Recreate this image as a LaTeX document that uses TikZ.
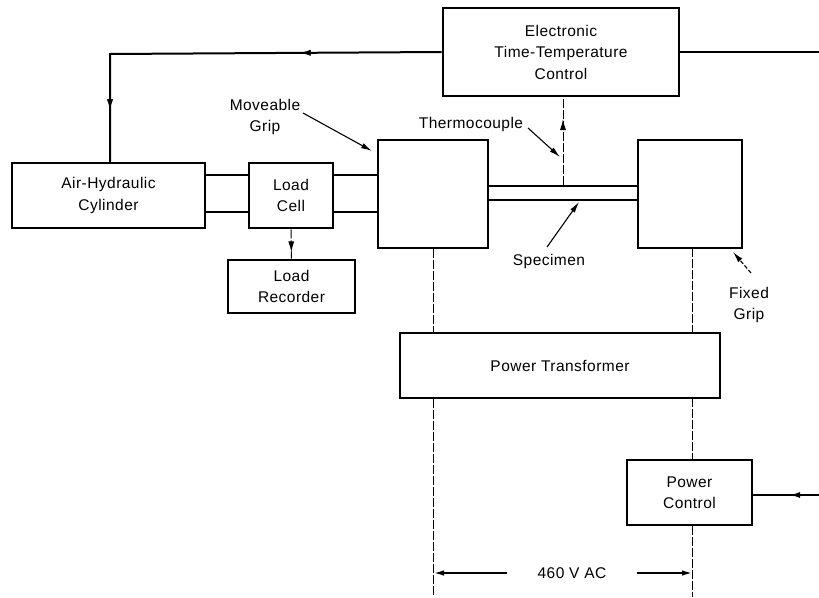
\documentclass[tikz,border=0pt]{standalone}
\usepackage{fontspec}
\setmainfont[LetterSpace=3]{Liberation Sans}
\usetikzlibrary{arrows.meta,decorations.markings}
\begin{document}
\begin{tikzpicture}[x=1pt,y=-1pt,
  box/.style={draw,line width=2.6pt,inner sep=0pt,align=center,font=\fontsize{15.5}{21.5}\selectfont},
  lbl/.style={inner sep=0pt,align=center,font=\fontsize{15.5}{21.5}\selectfont},
  wire/.style={line width=2pt},
  thin/.style={line width=1.1pt},
  dashline/.style={line width=1pt,dash pattern=on 9pt off 2pt},
  tip/.style={-{Latex[length=11pt,width=5.5pt]}},
  midarrow/.style={postaction={decorate},decoration={markings,mark=at position #1 with {\arrow{Latex[length=11pt,width=6pt]}}}}
]
\useasboundingbox (0,0) rectangle (819,597);

% boxes
\node[box,minimum width=236pt,minimum height=88pt] (ctrl) at (561,52) {Electronic\\Time-Temperature\\Control};
\node[box,minimum width=193pt,minimum height=65pt] (cyl) at (108.5,195.5) {Air-Hydraulic\\Cylinder};
\node[box,minimum width=84pt,minimum height=65pt] (cell) at (291,195.5) {Load\\Cell};
\node[box,minimum width=110pt,minimum height=108pt] (mgrip) at (433,194) {};
\node[box,minimum width=104pt,minimum height=108pt] (fgrip) at (690,194) {};
\node[box,minimum width=127pt,minimum height=53pt] (rec) at (291.5,286.5) {Load\\Recorder};
\node[box,minimum width=320pt,minimum height=65pt] (xfmr) at (560,365.5) {Power Transformer};
\node[box,minimum width=125pt,minimum height=65pt] (pctl) at (689.5,492.5) {Power\\Control};
\node[draw,line width=2pt,inner sep=0pt,minimum width=150pt,minimum height=14pt] (spec) at (563,193) {};

% rods
\draw[wire] (cyl.east |- 0,175) -- (cell.west |- 0,175);
\draw[wire] (cyl.east |- 0,212) -- (cell.west |- 0,212);
\draw[wire] (cell.east |- 0,175) -- (mgrip.west |- 0,175);
\draw[wire] (cell.east |- 0,212) -- (mgrip.west |- 0,212);

% control loop
\coordinate (tr) at (819,52);
\coordinate (br) at (819,495);
\draw[wire,midarrow=142pt,midarrow=388pt] (ctrl.west) -- (110,54) -- (110,163);
\draw[wire] (ctrl.east) -- (tr);
\draw[wire,midarrow=30pt] (br) -- (pctl.east |- br);

% thermocouple and load signal
\draw[dashline,midarrow=66pt] (spec.north) -- (spec.north |- ctrl.south);
\draw[dashline,midarrow=23pt] (cell.south) -- (rec.north);

% power lines
\coordinate (b1) at (433,597);
\coordinate (b2) at (692,597);
\draw[dashline] (mgrip.south) -- (mgrip.south |- xfmr.north);
\draw[dashline] (mgrip.south |- xfmr.south) -- (b1);
\draw[dashline] (692,248) -- (692,333);
\draw[dashline] (692,398) -- (pctl.north -| b2);
\draw[dashline] (pctl.south -| b2) -- (b2);

% 460 V AC
\node[lbl,inner xsep=30pt] (vac) at (572,573) {460 V AC};
\coordinate (vl) at (433,573);
\coordinate (vr) at (693,573);
\draw[wire,tip] (vac.west) -- (vl);
\draw[wire,tip] (vac.east) -- (vr);

% labels
\node[lbl] (lmg) at (265,117) {Moveable\\Grip};
\draw[thin,tip] (303,113) -- (372,151);
\node[lbl] (lth) at (471,124) {Thermocouple};
\draw[thin,tip] (528,128) -- (560,157);
\node[lbl] (lsp) at (549,261) {Specimen};
\draw[thin,tip] (547,247) -- (579,202);
\node[lbl] (lfg) at (749,305) {Fixed\\Grip};
\draw[thin,dash pattern=on 4pt off 2pt,tip] (751,273) -- (733,252);
\end{tikzpicture}
\end{document}
